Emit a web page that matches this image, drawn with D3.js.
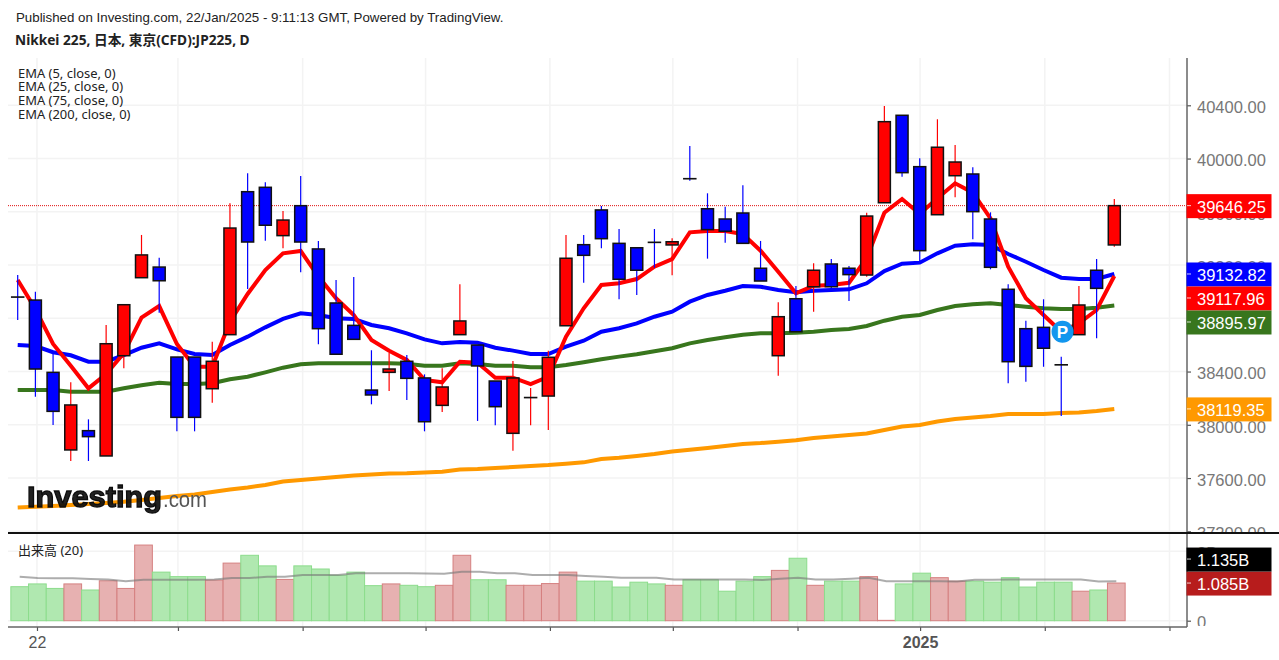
<!DOCTYPE html>
<html>
<head>
<meta charset="utf-8">
<script src="https://cdn.jsdelivr.net/npm/d3@7"></script>
<style>
  html, body { margin: 0; padding: 0; background: #fff; overflow: hidden; }
  svg { display: block; }
  .axis-text { font-family: "Liberation Sans", Arial, sans-serif; font-size: 16.5px; }
</style>
</head>
<body>
<svg id="chart" width="1279" height="660"></svg>
<script>
// daily candles
const opens = [38960,38937,38394,37811,37956,37766,38519,39105,39185,38509,38509,38271,38677,39751,39784,39421,39646,39321,38915,38747,38261,38394,38477,38352,38146,38677,38599,38329,37936,38204,38216,38744,39353,39614,39363,39330,39371,39351,39849,39623,39546,39591,39176,38519,38947,39037,39208,39176,39125,39668,40325,39939,39578,39871,39884,39546,39018,38722,38732,38451,38677,39161,39351];
const highs = [39125,39000,38539,38319,38041,38750,38902,39426,39255,38509,38509,38624,39664,39889,39822,39606,39869,39381,39088,39110,38560,38539,38524,38379,38424,39055,38599,38329,38479,38276,38557,39426,39426,39644,39471,39330,39471,39401,40094,39739,39638,39799,39381,38920,39043,39213,39245,39193,39593,40395,40325,40002,40295,40102,39934,39596,39055,38782,38943,38512,39043,39245,39696];
const lows = [38787,38211,37998,37728,37728,37766,38424,39103,38842,37951,37951,38166,38677,39020,39383,39326,39146,38605,38530,38642,38154,38254,38186,37951,38096,38677,38029,37996,37805,37996,37961,38744,39067,39326,38943,38975,39180,39123,39834,39248,39368,39363,39080,38369,38699,38850,39005,38930,39113,39668,39864,39230,39578,39709,39393,39168,38312,38324,38436,38066,38677,38650,39338];
const closes = [38959,38419,38101,38149,37911,38609,38902,39276,39082,38056,38056,38477,39478,39373,39499,39538,39373,38722,38530,38642,38224,38419,38349,38023,38284,38780,38442,38136,38352,38205,38507,39251,39273,39398,39093,39161,39370,39375,39848,39466,39454,39363,39080,38812,38699,39161,39037,39128,39568,40277,39894,39308,40085,39974,39601,39183,38474,38439,38575,38450,38900,39025,39646.25];

const ema5 = [39088,38870,38607,38444,38274,38382,38539,38805,38892,38607,38436,38436,38774,38983,39163,39288,39306,39113,38950,38825,38637,38557,38487,38337,38319,38474,38466,38354,38354,38306,38361,38662,38875,39050,39063,39095,39188,39245,39446,39456,39456,39433,39308,39150,38988,39045,39050,39067,39251,39593,39696,39584,39701,39814,39744,39551,39188,38950,38825,38699,38762,38862,39117.96];
const ema25 = [38599,38592,38545,38522,38474,38474,38524,38579,38612,38567,38532,38524,38599,38662,38732,38795,38838,38825,38800,38795,38750,38725,38687,38642,38612,38622,38617,38579,38557,38532,38532,38587,38632,38699,38725,38762,38812,38850,38925,38975,39007,39043,39037,39013,38995,39007,39013,39018,39063,39155,39210,39218,39288,39345,39356,39351,39283,39225,39163,39105,39095,39095,39132.82];
const ema75 = [38261,38261,38261,38249,38249,38249,38274,38297,38316,38306,38306,38312,38342,38361,38394,38429,38454,38462,38462,38462,38462,38462,38459,38444,38444,38462,38457,38444,38444,38432,38432,38449,38470,38492,38512,38530,38552,38575,38612,38637,38657,38677,38687,38687,38692,38699,38712,38720,38742,38782,38812,38825,38862,38892,38905,38913,38900,38887,38875,38870,38870,38880,38895.97];
const ema200 = [37379,37385,37390,37398,37405,37413,37422,37435,37450,37465,37476,37495,37514,37529,37548,37574,37585,37597,37608,37619,37627,37634,37636,37642,37648,37664,37668,37675,37683,37691,37698,37708,37718,37743,37753,37766,37781,37799,37813,37826,37841,37856,37863,37873,37884,37901,37912,37923,37935,37961,37987,37998,38025,38044,38055,38066,38081,38081,38081,38089,38092,38104,38119.35];

// volume in billions and its 20 day average
const volumes = [0.98,1.06,0.93,1.06,0.885,1.15,0.93,2.18,1.40,1.27,1.27,1.17,1.66,1.885,1.58,1.19,1.58,1.49,1.31,1.40,1.01,1.06,1.02,0.98,1.02,1.885,1.18,1.18,1.02,1.02,1.07,1.40,1.14,1.14,0.97,1.11,1.06,1.02,1.18,1.18,0.85,1.14,1.27,1.45,1.80,1.02,1.14,1.14,1.27,0.01,1.06,1.37,1.24,1.14,1.14,1.11,1.24,0.97,1.11,1.11,0.85,0.885,1.085];
const volumeMa = [1.27,1.23,1.22,1.22,1.20,1.19,1.14,1.18,1.18,1.18,1.18,1.19,1.23,1.23,1.27,1.27,1.32,1.32,1.32,1.37,1.37,1.37,1.37,1.36,1.355,1.41,1.41,1.37,1.37,1.32,1.32,1.32,1.29,1.27,1.24,1.24,1.24,1.19,1.19,1.19,1.19,1.19,1.17,1.21,1.24,1.19,1.19,1.21,1.24,1.14,1.14,1.14,1.14,1.13,1.18,1.18,1.19,1.19,1.19,1.19,1.19,1.13,1.135];

const priceTicks = [37200,37600,38000,38400,38800,39200,39600,40000,40400];
const timeTicks = [1.09,9.06,16.11,23.06,30.09,37.04,44.09,51.02,58.07,65.12];
const timeLabels = ["22","","","","","","","2025","",""];
const volumeTicks = [0,2];
const legendLabels = ["EMA (5, close, 0)","EMA (25, close, 0)","EMA (75, close, 0)","EMA (200, close, 0)"];

const svg = d3.select("#chart");

const x = d3.scaleLinear().domain([0, 62]).range([17.7, 1114.3]);
const y = d3.scaleLinear().domain([38000, 40400]).range([424.8, 105.3]);
const volY = d3.scaleLinear().domain([0, 2]).range([620.7, 551.3]);

const idx = d3.range(opens.length);
const candleW = 12;
const barW = x(1) - x(0);
const paneLeft = 8, axisX = 1187, paneTop = 58, sepY = 533, bottomY = 627;

const defs = svg.append("defs");
defs.append("clipPath").attr("id", "priceClip").append("rect")
  .attr("x", 0).attr("y", paneTop).attr("width", 1279).attr("height", sepY - paneTop - 1);
defs.append("clipPath").attr("id", "volClip").append("rect")
  .attr("x", 0).attr("y", sepY).attr("width", 1279).attr("height", bottomY - sepY - 1);
defs.append("filter").attr("id", "soft").append("feGaussianBlur").attr("stdDeviation", 0.5);

// grid
const grid = svg.append("g").attr("stroke", "#f3f3f3").attr("stroke-width", 1.5);
timeTicks.forEach(t => {
  grid.append("line").attr("x1", x(t)).attr("x2", x(t)).attr("y1", paneTop).attr("y2", bottomY);
});
priceTicks.forEach(t => {
  grid.append("line").attr("x1", paneLeft).attr("x2", axisX).attr("y1", y(t)).attr("y2", y(t));
});
volumeTicks.forEach(t => {
  grid.append("line").attr("x1", paneLeft).attr("x2", axisX).attr("y1", volY(t)).attr("y2", volY(t));
});

// last price line
svg.append("line")
  .attr("x1", paneLeft).attr("x2", axisX).attr("y1", y(closes[62])).attr("y2", y(closes[62]))
  .attr("stroke", "#e01010").attr("stroke-width", 1).attr("stroke-dasharray", "1 1");

// moving averages
const priceLine = d3.line().x((d, i) => x(i)).y(d => y(d));
[[ema200, "#ff9900"], [ema75, "#38761d"], [ema25, "#0000ff"], [ema5, "#ff0000"]].forEach(([vals, col]) => {
  svg.append("path").attr("d", priceLine(vals))
    .attr("fill", "none").attr("stroke", col).attr("stroke-width", 4).attr("stroke-linejoin", "miter");
});

// logo goes over the lines
const logo = svg.append("g").attr("filter", "url(#soft)");
logo.append("text").attr("x", 27).attr("y", 507)
  .attr("font-family", "Liberation Sans, Arial, sans-serif").attr("font-weight", "bold")
  .attr("font-size", 29.5).attr("textLength", 135).attr("lengthAdjust", "spacingAndGlyphs")
  .attr("stroke", "#111").attr("stroke-width", 1.3).attr("fill", "#111").attr("fill-opacity", 0.92).text("Investing");
logo.append("text").attr("x", 163).attr("y", 507)
  .attr("font-family", "Liberation Sans, Arial, sans-serif")
  .attr("font-size", 22).attr("textLength", 44).attr("lengthAdjust", "spacingAndGlyphs")
  .attr("fill", "#555").text(".com");

// candles
const isUp = i => closes[i] >= opens[i];
const candle = svg.append("g").selectAll("g").data(idx).enter().append("g");
candle.append("line")
  .attr("x1", i => x(i)).attr("x2", i => x(i))
  .attr("y1", i => y(highs[i])).attr("y2", i => y(lows[i]))
  .attr("stroke", i => isUp(i) ? "#ff0000" : "#0000ff").attr("stroke-width", 1.2);
candle.append("rect")
  .attr("x", i => x(i) - candleW / 2).attr("width", candleW)
  .attr("y", i => y(Math.max(opens[i], closes[i])))
  .attr("height", i => Math.abs(y(opens[i]) - y(closes[i])))
  .attr("fill", i => isUp(i) ? "#ff0000" : "#0000ff")
  .attr("stroke", "#111").attr("stroke-width", 1.5);

// P marker on the last doji
const pm = svg.append("g");
pm.append("circle").attr("cx", x(59) + 1.3).attr("cy", y(38699)).attr("r", 11).attr("fill", "#1296ee");
pm.append("text").attr("x", x(59) + 1.3).attr("y", y(38699) + 6).attr("text-anchor", "middle")
  .attr("font-family", "Liberation Sans, Arial, sans-serif").attr("font-weight", "bold")
  .attr("font-size", 17).attr("fill", "#fff").text("P");

// volume
svg.append("g").selectAll("rect").data(idx).enter().append("rect")
  .attr("x", i => x(i) + 2 - barW / 2).attr("width", barW)
  .attr("y", i => volY(volumes[i])).attr("height", i => volY(0) - volY(volumes[i]))
  .attr("fill", i => isUp(i) ? "#e7b1b1" : "#b0e8b0")
  .attr("stroke", i => isUp(i) ? "#d58080" : "#8cdc8c").attr("stroke-width", 1);

const volLine = d3.line().x((d, i) => x(i) + 2).y(d => volY(d));
svg.append("path").attr("d", volLine(volumeMa))
  .attr("fill", "none").attr("stroke", "#777").attr("stroke-opacity", 0.6).attr("stroke-width", 2);

// axes
const priceAxis = svg.append("g").attr("transform", `translate(${axisX},0)`).attr("clip-path", "url(#priceClip)")
  .call(d3.axisRight(y).tickValues(priceTicks).tickFormat(d3.format(".2f")).tickSize(4).tickPadding(6));
const volAxis = svg.append("g").attr("transform", `translate(${axisX},0)`).attr("clip-path", "url(#volClip)")
  .call(d3.axisRight(volY).tickValues(volumeTicks).tickFormat(d => d ? d + "B" : "0").tickSize(4).tickPadding(6));
const timeAxis = svg.append("g").attr("transform", `translate(0,${bottomY})`)
  .call(d3.axisBottom(x).tickValues(timeTicks).tickFormat((d, i) => timeLabels[i]).tickSize(4).tickPadding(6));

[priceAxis, volAxis, timeAxis].forEach(a => {
  a.select(".domain").remove();
  a.selectAll("line").attr("stroke", "#555").attr("stroke-width", 1.2);
  a.selectAll("text").attr("class", "axis-text").attr("fill", "#777").attr("font-size", null);
});
// tick labels sit a little under their ticks
priceAxis.selectAll("text").attr("dy", "0.44em");
volAxis.selectAll("text").attr("dy", "0.44em");
timeAxis.selectAll("text").attr("fill", "#555").style("font-size", "16px")
  .attr("font-weight", (d, i) => timeLabels[i] === "2025" ? "bold" : "normal");

// frame lines
svg.append("line").attr("x1", axisX).attr("x2", axisX).attr("y1", paneTop).attr("y2", bottomY)
  .attr("stroke", "#666").attr("stroke-width", 1.5);
svg.append("line").attr("x1", paneLeft).attr("x2", axisX).attr("y1", bottomY).attr("y2", bottomY)
  .attr("stroke", "#666").attr("stroke-width", 1.5);
svg.append("line").attr("x1", paneLeft).attr("x2", 1279).attr("y1", sepY).attr("y2", sepY)
  .attr("stroke", "#111").attr("stroke-width", 2);

// value tags on the right, pushed apart when they would overlap
function valueTag(yPos, col, label) {
  const g = svg.append("g");
  g.append("rect").attr("x", axisX - 0.5).attr("y", yPos - 11.5).attr("width", 85).attr("height", 24).attr("fill", col);
  g.append("line").attr("x1", axisX).attr("x2", axisX + 4).attr("y1", yPos).attr("y2", yPos)
    .attr("stroke", "#fff").attr("stroke-opacity", 0.8);
  g.append("text").attr("class", "axis-text").attr("x", axisX + 10).attr("y", yPos + 7).attr("fill", "#fff").text(label);
}

const priceTags = [
  [closes[62], "#ff0000"],
  [ema25[62], "#0000ff"],
  [ema5[62], "#ff0000"],
  [ema75[62], "#38761d"],
  [ema200[62], "#ff9900"]
].sort((a, b) => b[0] - a[0]);
let prevY = -100;
priceTags.forEach(([v, col]) => {
  const p = Math.max(y(v), prevY + 24);
  prevY = p;
  valueTag(p, col, v.toFixed(2));
});

const volTagY = volY(volumes[62]);
valueTag(volTagY, "#b71c1c", volumes[62].toFixed(3) + "B");
valueTag(Math.min(volY(volumeMa[62]), volTagY - 24), "#000", volumeMa[62].toFixed(3) + "B");

// header and legends
const sans = "'Liberation Sans', Arial, sans-serif";
const cjk = "'Noto Sans', 'Noto Sans CJK JP', sans-serif";
svg.append("text").attr("x", 16).attr("y", 22).attr("font-family", sans).attr("font-size", 13.3).attr("fill", "#222")
  .text("Published on Investing.com, 22/Jan/2025 - 9:11:13 GMT, Powered by TradingView.");
svg.append("text").attr("x", 15).attr("y", 45).attr("font-family", cjk).attr("font-size", 13.7).attr("font-weight", "bold").attr("fill", "#222")
  .text("Nikkei 225, 日本, 東京(CFD):JP225, D");
legendLabels.forEach((t, i) => {
  svg.append("text").attr("x", 18).attr("y", 77.7 + i * 13.7).attr("font-family", cjk).attr("font-size", 12.95).attr("fill", "#222").text(t);
});
svg.append("text").attr("x", 18).attr("y", 555).attr("font-family", cjk).attr("font-size", 13).attr("fill", "#222").text("出来高 (20)");
</script>
</body>
</html>
